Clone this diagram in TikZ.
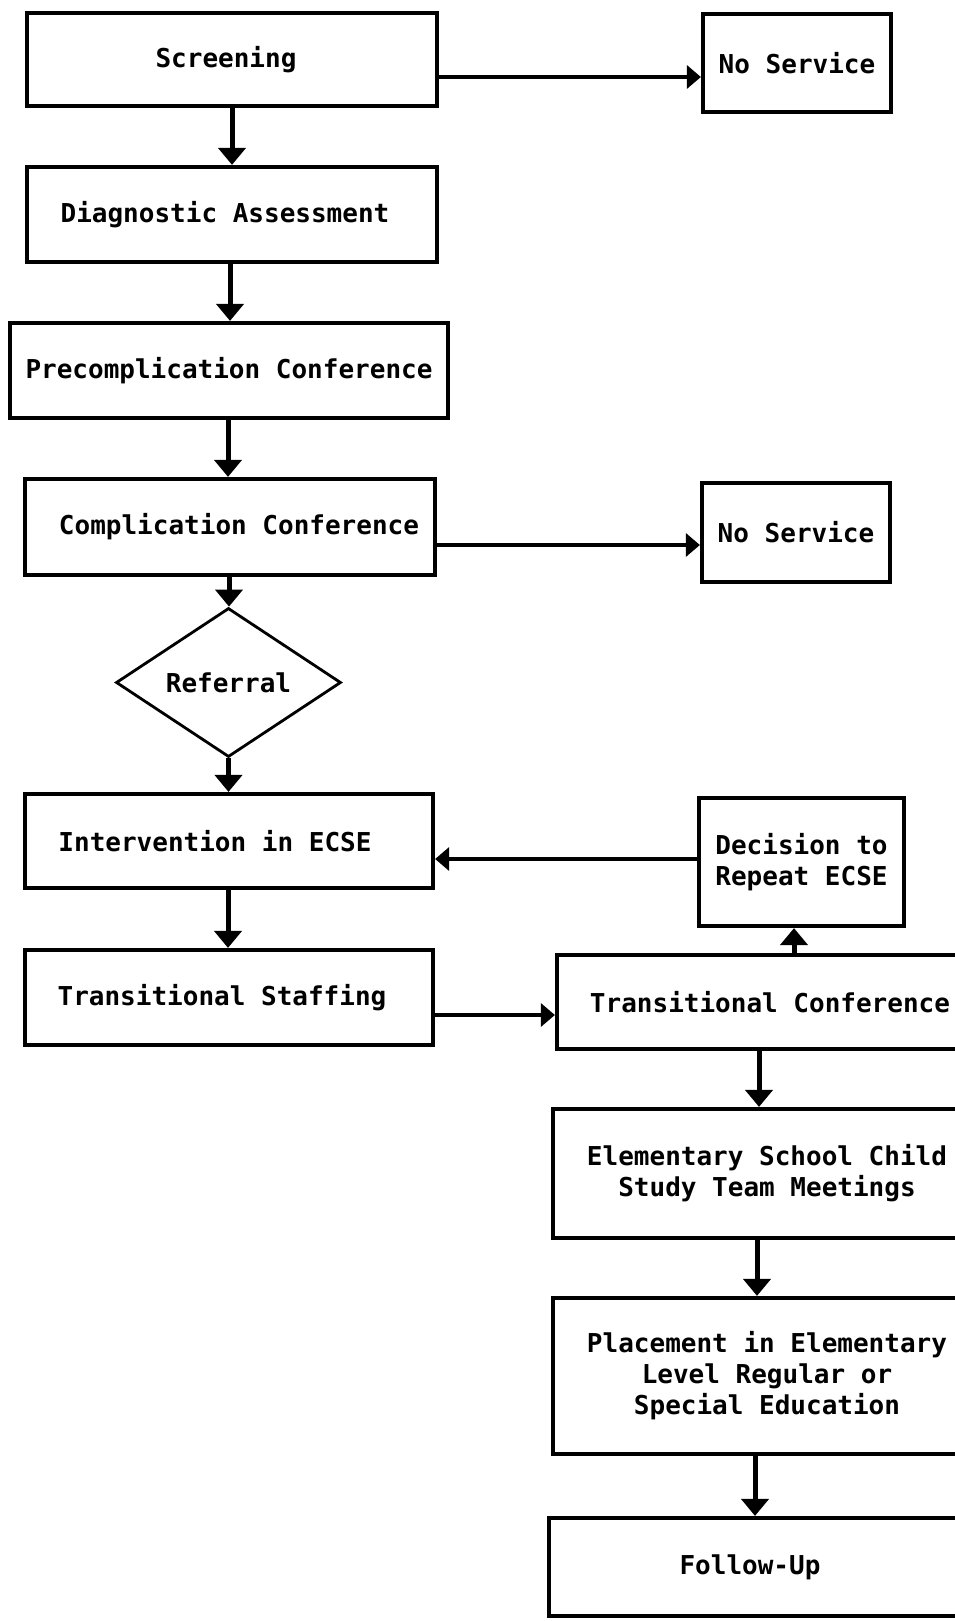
\documentclass[tikz,border=0pt]{standalone}
\usepackage{fontspec}
\setmonofont{DejaVu Sans Mono}
\usetikzlibrary{arrows.meta,shapes.geometric}

% shift a single line of text sideways inside its box
\newcommand{\tshift}[2]{\hspace*{#1}#2\hspace*{-#1}}

\begin{document}
\begin{tikzpicture}[x=1pt,y=-1pt,
  txt/.style={font=\ttfamily\bfseries\fontsize{26}{31}\selectfont},
  box/.style={txt,draw,rectangle,line width=4.2pt,inner sep=0pt,align=center},
  dia/.style={txt,draw,diamond,line width=2.8pt,inner sep=0pt,shape aspect=1.5},
  varr/.style={line width=5pt,-{Triangle[width=27pt,length=17pt]}},
  harr/.style={line width=3.2pt,-{Triangle[width=23pt,length=14pt]}}]
\useasboundingbox (0,0) rectangle (954,1621);

% left column
\node[box,minimum width=410,minimum height=93] (scr) at (232,59.5) {\tshift{-6pt}{Screening}};
\node[box,minimum width=410,minimum height=95] (diag) at (232,214.5) {\tshift{-7pt}{Diagnostic Assessment}};
\node[box,minimum width=438,minimum height=95] (pre) at (229,370.5) {Precomplication Conference};
\node[box,minimum width=410,minimum height=96] (comp) at (230,527) {\tshift{9pt}{Complication Conference}};
\node[dia,minimum width=225,minimum height=149] (ref) at (228.5,682.5) {Referral};
\node[box,minimum width=408,minimum height=94] (int) at (229,841) {\tshift{-14pt}{Intervention in ECSE}};
\node[box,minimum width=408,minimum height=95] (ts) at (229,997.5) {\tshift{-7pt}{Transitional Staffing}};

% right column
\node[box,minimum width=188,minimum height=98] (ns1) at (797,63) {No Service};
\node[box,minimum width=188,minimum height=99] (ns2) at (796,532.5) {No Service};
\node[box,minimum width=205,minimum height=128] (dec) at (801.5,862) {Decision to\\Repeat ECSE};
\node[box,minimum width=426,minimum height=94] (tc) at (770,1002) {Transitional Conference};
\node[box,minimum width=428,minimum height=129] (esc) at (767,1173.5) {Elementary School Child\\Study Team Meetings};
\node[box,minimum width=428,minimum height=156] (plc) at (767,1376) {Placement in Elementary\\Level Regular or\\Special Education};
\node[box,minimum width=428,minimum height=98] (fu) at (763,1567) {\tshift{-13pt}{Follow-Up}};

% main flow
\draw[varr] (scr.south) -- (diag.north);
\draw[varr] ([xshift=-2pt]diag.south) -- ([xshift=-2pt]diag.south |- pre.north);
\draw[varr] ([xshift=-1pt]pre.south) -- ([xshift=-1pt]pre.south |- comp.north);
\draw[varr] ([xshift=-1pt]comp.south) -- ([xshift=-1pt]comp.south |- ref.north);
\draw[varr] (ref.south) -- (ref.south |- int.north);
\draw[varr] ([xshift=-1pt]int.south) -- ([xshift=-1pt]int.south |- ts.north);

% exits to no service
\draw[harr] ([yshift=-17.5pt]scr.east) coordinate (s1) -- (s1 -| ns1.west);
\draw[harr] ([yshift=-18pt]comp.east) coordinate (s2) -- (s2 -| ns2.west);

% transition
\draw[harr] ([yshift=-17.5pt]ts.east) coordinate (s3) -- (s3 -| tc.west);
\draw[varr] ([xshift=-7.5pt]dec.south |- tc.north) -- ([xshift=-7.5pt]dec.south);
\draw[harr] ([yshift=3pt]dec.west) coordinate (s4) -- (s4 -| int.east);
\draw[varr] ([xshift=-11pt]tc.south) coordinate (s5) -- (s5 |- esc.north);
\draw[varr] ([xshift=-10pt]esc.south) coordinate (s6) -- (s6 |- plc.north);
\draw[varr] ([xshift=-12pt]plc.south) coordinate (s7) -- (s7 |- fu.north);
\end{tikzpicture}
\end{document}
